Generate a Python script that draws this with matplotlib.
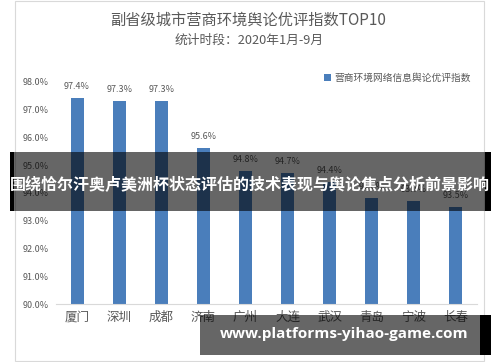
import matplotlib
matplotlib.use("Agg")
import matplotlib.pyplot as plt
from matplotlib.patches import Rectangle

plt.rcParams['font.family'] = ['Noto Sans CJK SC', 'DejaVu Sans']

# data
cities = ['厦门', '深圳', '成都', '济南', '广州', '大连', '武汉', '青岛', '宁波', '长春']
scores = [97.4, 97.3, 97.3, 95.6, 94.8, 94.7, 94.4, 93.8, 93.7, 93.5]
yticks = [90, 91, 92, 93, 94, 95, 96, 97, 98]

title = '副省级城市营商环境舆论优评指数TOP10'
subtitle = '统计时段：2020年1月-9月'
legend_label = '营商环境网络信息舆论优评指数'
banner = '围绕恰尔汗奥卢美洲杯状态评估的技术表现与舆论焦点分析前景影响'
site = 'www.platforms-yihao-game.com'

bar_color = '#4a7ebb'
gray = '#595959'

fig = plt.figure(figsize=(5, 3.62), dpi=100)
W, H = 500, 362

def box(x0, y0, w, h, **kw):
    # pixel box (top-left origin) -> rectangle in figure fraction
    r = Rectangle((x0 / W, 1 - (y0 + h) / H), w / W, h / H,
                  transform=fig.transFigure, **kw)
    fig.patches.append(r)
    return r

# screenshot frame
box(15, 1, 469, 360, facecolor='white', edgecolor='#d9d9d9', linewidth=0.8, zorder=-1)

ax = fig.add_axes([56 / W, 1 - 304 / H, 421 / W, (304 - 81.7) / H])
ax.set_zorder(1)
x = range(len(cities))
ax.bar(x, scores, width=0.31, color=bar_color, label=legend_label, zorder=2)
ax.set_ylim(90, 98)
ax.set_xlim(-0.5, len(cities) - 0.5)
ax.set_yticks(yticks)
ax.set_yticklabels([f'{v:.1f}%' for v in yticks], fontsize=6.5, color=gray)
ax.set_xticks(list(x))
ax.set_xticklabels(cities, fontsize=9, color=gray)
ax.tick_params(axis='both', length=0)
ax.tick_params(axis='y', pad=5)
ax.tick_params(axis='x', pad=5)
for s in ['top', 'right', 'left']:
    ax.spines[s].set_visible(False)
ax.spines['bottom'].set_color('#d9d9d9')
ax.patch.set_alpha(0)

for i, v in enumerate(scores):
    ax.annotate(f'{v:.1f}%', (i, v), xytext=(0, 5), textcoords='offset points',
                ha='center', va='bottom', fontsize=6.5, color=gray)

fig.legend(loc='upper right', bbox_to_anchor=(476 / W, 1 - 68 / H), frameon=False,
           fontsize=7, labelcolor=gray, handlelength=0.7, handleheight=0.7,
           handletextpad=0.4, borderpad=0)

fig.text(248 / W, 1 - 20 / H, title, ha='center', va='center', fontsize=11, color=gray)
fig.text(249 / W, 1 - 40 / H, subtitle, ha='center', va='center', fontsize=9.2, color=gray)

# overlay banners
box(10, 152, 480, 59, facecolor='black', alpha=0.6, edgecolor='none', zorder=5)
box(10, 152, 4, 59, facecolor='black', edgecolor='none', zorder=5)
box(485, 152, 6, 59, facecolor='black', edgecolor='none', zorder=5)
fig.text(250 / W, 1 - 185 / H, banner, ha='center', va='center', fontsize=11.5,
         color='white', fontweight='bold', zorder=6)

box(200, 315, 291, 40, facecolor='black', alpha=0.6, edgecolor='none', zorder=5)
box(480, 315, 11, 40, facecolor='black', edgecolor='none', zorder=5)
fig.text(344 / W, 1 - 334 / H, site, ha='center', va='center', fontsize=11,
         color='white', fontweight='bold', family=['Open Sans', 'DejaVu Sans'], zorder=6)

fig.savefig('out.png', dpi=100)
